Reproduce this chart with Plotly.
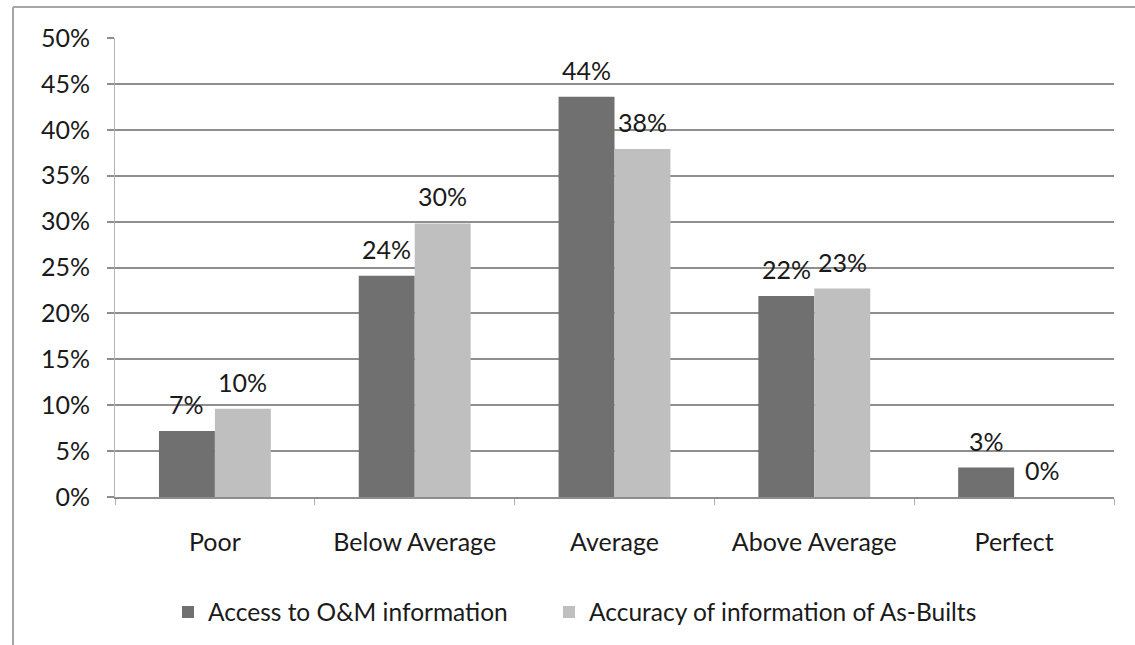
import plotly.graph_objects as go

# Survey ratings by category
categories = ["Poor", "Below Average", "Average", "Above Average", "Perfect"]
access_om = [0.072, 0.241, 0.436, 0.219, 0.032]
accuracy_asbuilt = [0.096, 0.298, 0.379, 0.227, 0.0]
series_names = ["Access to O&M information", "Accuracy of information of As-Builts"]
y_ticks = [0, 0.05, 0.10, 0.15, 0.20, 0.25, 0.30, 0.35, 0.40, 0.45, 0.50]

dark = "#707070"
light = "#bfbfbf"
grid = "#8e8e8e"
text_col = "#1a1a1a"
font_family = "Lato, 'Open Sans', sans-serif"
fs = 25

W, H = 1135, 645
L, R, T, B = 115, 21, 38, 147
plot_w = W - L - R
plot_h = H - T - B

fig = go.Figure()
fig.add_trace(go.Bar(x=categories, y=access_om, name=series_names[0],
                     marker=dict(color=dark, line=dict(width=0)), legend="legend"))
fig.add_trace(go.Bar(x=categories, y=accuracy_asbuilt, name=series_names[1],
                     marker=dict(color=light, line=dict(width=0)), legend="legend2"))

# Value labels above each bar
bar_px = plot_w / len(categories) * 0.56 / 2
annotations = []
for values, shift in ((access_om, -bar_px / 2), (accuracy_asbuilt, bar_px / 2)):
    for cat, v in zip(categories, values):
        annotations.append(dict(
            x=cat, y=v, xref="x", yref="y", text=f"{round(v * 100):.0f}%",
            showarrow=False, xanchor="center", yanchor="bottom",
            xshift=shift, yshift=10,
            font=dict(family=font_family, size=fs, color=text_col)))


# Outer frame (top and left edges)
def px_x(p):
    return (p - L) / plot_w


def px_y(p):
    return (H - B - p) / plot_h


frame = dict(color="#a6a6a6", width=2)
shapes = [
    dict(type="line", xref="paper", yref="paper",
         x0=px_x(13), x1=px_x(W + 5), y0=px_y(7), y1=px_y(7), line=frame),
    dict(type="line", xref="paper", yref="paper",
         x0=px_x(13), x1=px_x(13), y0=px_y(7), y1=px_y(H + 5), line=frame),
]

legend_style = dict(orientation="h", xanchor="left", y=px_y(612), yanchor="middle",
                    font=dict(size=24.5), itemwidth=30)

fig.update_layout(
    width=W, height=H,
    margin=dict(l=L, r=R, t=T, b=B),
    paper_bgcolor="white", plot_bgcolor="white",
    barmode="group", bargap=0.44, bargroupgap=0,
    font=dict(family=font_family, size=fs, color=text_col),
    showlegend=True,
    legend=dict(x=px_x(168), **legend_style),
    legend2=dict(x=px_x(549), **legend_style),
    annotations=annotations,
    shapes=shapes,
)
fig.update_xaxes(
    type="category", showline=True, linecolor=grid, linewidth=1.5,
    ticks="outside", tickson="boundaries", ticklen=6, tickcolor="#b0b0b0",
    ticklabelstandoff=22,
    showgrid=False, tickfont=dict(size=fs, color=text_col),
)
fig.update_yaxes(
    range=[0, 0.5], tickvals=y_ticks, tickformat=".0%",
    showgrid=True, gridcolor=grid, gridwidth=1.5,
    showline=True, linecolor="#b5b5b5", linewidth=1,
    ticks="outside", ticklen=7, tickcolor=grid, tickwidth=1.5,
    ticklabelstandoff=12, zeroline=False,
    tickfont=dict(size=fs, color=text_col),
)

fig.write_html("out.html")
